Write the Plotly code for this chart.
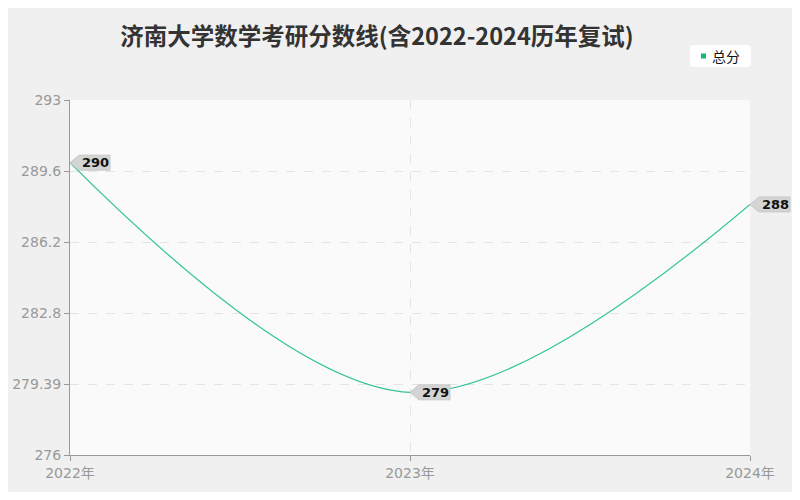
import plotly.graph_objects as go

# data
years = ["2022年", "2023年", "2024年"]
scores = [290, 279, 288]
series_name = "总分"
y_ticks = [276, 279.39, 282.8, 286.2, 289.6, 293]
y_range = [276, 293]

line_color = "#33c49a"
font_cjk = "Noto Sans CJK SC"

# page puts the figure 8px in from the corner, so size it to fit
OFF = 8
W, H = 800 - 2 * OFF, 500 - 2 * OFF
ml, mr, mt, mb = 70 - OFF, 50 - OFF, 100 - OFF, 45 - OFF

fig = go.Figure()

fig.add_trace(go.Scatter(
    x=list(range(len(years))), y=scores,
    mode="lines", name=series_name,
    line=dict(color=line_color, width=1.2, shape="spline", smoothing=1.0),
    showlegend=False,
    hoverinfo="skip",
))

shapes = []
annotations = []

# helpers: reference-screenshot pixel -> paper fraction
pw, ph = W - ml - mr, H - mt - mb
def px_x(p):
    return (p - OFF - ml) / pw
def px_y(p):
    return (H - mb - (p - OFF)) / ph


def round_rect(x0, y0, x1, y1, r):
    # rounded rectangle path given in screenshot pixels
    pts = [
        ("M", x0 + r, y0), ("L", x1 - r, y0), ("Q", x1, y0, x1, y0 + r),
        ("L", x1, y1 - r), ("Q", x1, y1, x1 - r, y1), ("L", x0 + r, y1),
        ("Q", x0, y1, x0, y1 - r), ("L", x0, y0 + r), ("Q", x0, y0, x0 + r, y0),
    ]
    out = []
    for p in pts:
        cmd, vals = p[0], p[1:]
        coords = []
        for k in range(0, len(vals), 2):
            coords.append("%.5f,%.5f" % (px_x(vals[k]), px_y(vals[k + 1])))
        out.append(cmd + " " + " ".join(coords))
    return " ".join(out) + " Z"


# dark surround
shapes.append(dict(
    type="rect", xref="paper", yref="paper", layer="below",
    x0=px_x(-2), x1=px_x(802), y0=px_y(502), y1=px_y(-2),
    fillcolor="#0c0c0c", line=dict(width=0),
))
# card frame
shapes.append(dict(
    type="path", xref="paper", yref="paper", layer="below",
    path=round_rect(6, 6, 794, 494, 6),
    fillcolor="#f0f0f0", line=dict(color="#9a9a9a", width=1.5),
))
# plot area background
shapes.append(dict(
    type="rect", xref="paper", yref="paper", layer="below",
    x0=0, x1=1, y0=0, y1=1,
    fillcolor="#fafafa", line=dict(width=0),
))
# legend box, swatch and label
shapes.append(dict(
    type="path", xref="paper", yref="paper", layer="below",
    path=round_rect(690, 45, 751, 67, 4),
    fillcolor="#ffffff", line=dict(width=0),
))
shapes.append(dict(
    type="rect", xref="paper", yref="paper", layer="above",
    x0=px_x(701), x1=px_x(706), y0=px_y(58.5), y1=px_y(53.5),
    fillcolor="#11b981", line=dict(width=0),
))
annotations.append(dict(
    x=px_x(710), y=px_y(56), xref="paper", yref="paper",
    text=series_name, showarrow=False, xanchor="left", yanchor="middle",
    font=dict(family=font_cjk, size=14, color="#111111"),
))

# value labels with arrow-shaped tags
n = len(years)
for i, v in enumerate(scores):
    xa = i / (n - 1)
    shapes.append(dict(
        type="path", xref="paper", yref="y", layer="above",
        xsizemode="pixel", ysizemode="pixel", xanchor=xa, yanchor=v,
        path="M 0 0 L 9 7.5 L 40 7.5 L 40 -7.5 L 9 -7.5 Z",
        fillcolor="#d4d4d4", line=dict(color="#c8c8c8", width=1),
    ))
    annotations.append(dict(
        x=xa, y=v, xref="paper", yref="y",
        text="<b>%d</b>" % v, showarrow=False, xanchor="left", yanchor="middle",
        xshift=10, font=dict(family="DejaVu Sans", size=13, color="#111111"),
    ))

fig.update_layout(
    width=W, height=H,
    margin=dict(l=ml, r=mr, t=mt, b=mb),
    paper_bgcolor="#0c0c0c",
    plot_bgcolor="#fafafa",
    showlegend=False,
    title=dict(
        text="济南大学数学考研分数线(含2022-2024历年复试)",
        x=(377 - OFF) / W, xanchor="center", y=1 - (37 - OFF) / H, yanchor="middle",
        font=dict(family=font_cjk, size=23.5, color="#333333", weight="bold"),
    ),
    font=dict(family=font_cjk),
    shapes=shapes,
    annotations=annotations,
    xaxis=dict(
        range=[0, n - 1], automargin=False,
        tickvals=list(range(n)), ticktext=years,
        showgrid=True, gridcolor="#e4e4e4", griddash="dash", gridwidth=1,
        showline=True, linecolor="#999999", linewidth=1,
        ticks="outside", ticklen=5, tickcolor="#999999",
        tickfont=dict(family="DejaVu Sans, " + font_cjk, size=14, color="#999999"),
        zeroline=False, fixedrange=True,
    ),
    yaxis=dict(
        range=y_range, automargin=False,
        tickvals=y_ticks, ticktext=[str(t) for t in y_ticks],
        showgrid=True, gridcolor="#e4e4e4", griddash="dash", gridwidth=1,
        showline=True, linecolor="#999999", linewidth=1,
        ticks="outside", ticklen=5, tickcolor="#999999",
        tickfont=dict(family="DejaVu Sans", size=14, color="#999999"),
        zeroline=False, fixedrange=True,
    ),
)

fig.write_html("out.html")
